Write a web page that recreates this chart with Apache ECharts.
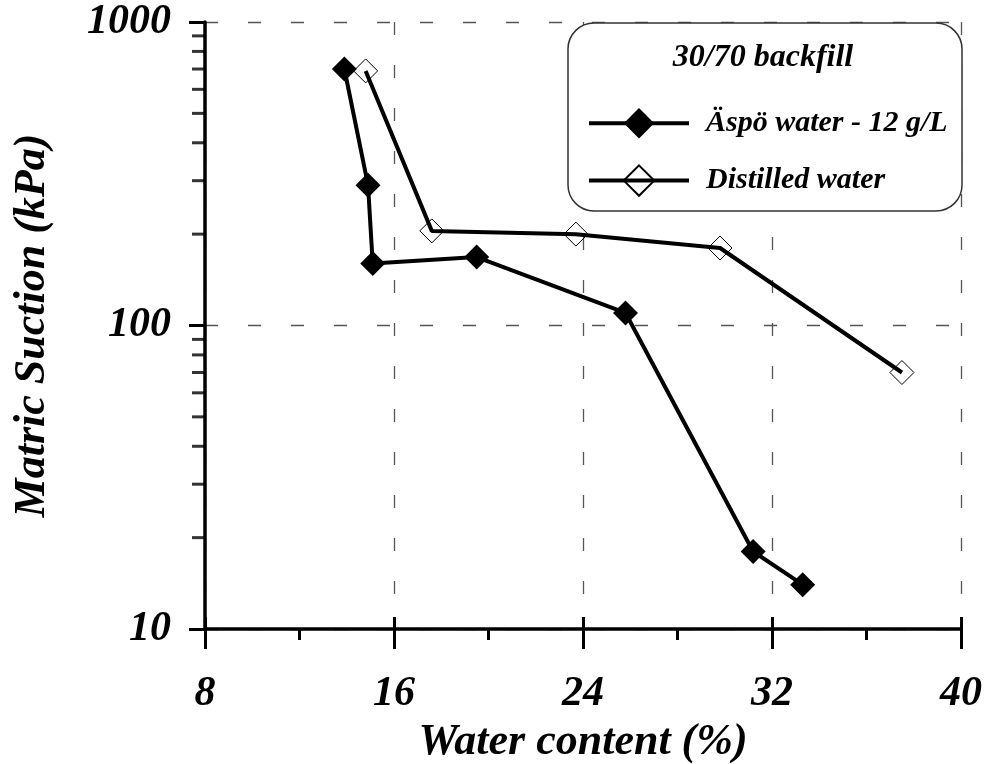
<!DOCTYPE html>
<html>
<head>
<meta charset="utf-8">
<script src="https://cdn.jsdelivr.net/npm/echarts@6/dist/echarts.min.js"></script>
<style>
html,body{margin:0;padding:0;background:#fff;overflow:hidden;}
#chart{width:987px;height:764px;}
</style>
</head>
<body>
<div id="chart"></div>
<script>
// Data
const aspoWaterContent = [13.9, 14.9, 15.1, 19.5, 25.8, 31.2, 33.3];
const aspoSuction      = [700, 290, 160, 168, 110, 18, 14];
const distWaterContent = [14.8, 17.6, 23.7, 29.8, 37.5];
const distSuction      = [690, 205, 200, 180, 70];
const seriesNames = ['Äspö water - 12 g/L', 'Distilled water'];
const legendTitle = '30/70 backfill';
const xTicks = [8, 16, 24, 32, 40];
const yTicks = [10, 100, 1000];
const yMinorTicks = [20, 30, 40, 50, 60, 70, 80, 90, 200, 300, 400, 500, 600, 700, 800, 900];

const FONT = '"Liberation Serif", "Times New Roman", serif';
const chart = echarts.init(document.getElementById('chart'), null, {renderer: 'canvas', width: 987, height: 764});

const zip = (xs, ys) => xs.map((x, i) => [x, ys[i]]);

const option = {
  animation: false,
  backgroundColor: '#fff',
  grid: {left: 205, right: 26, top: 22, bottom: 135, containLabel: false, outerBoundsMode: 'none'},
  xAxis: [{
    type: 'value',
    min: xTicks[0], max: xTicks[xTicks.length - 1], interval: 8,
    name: 'Water content (%)',
    nameLocation: 'middle',
    nameGap: 92,
    nameTextStyle: {fontFamily: FONT, fontSize: 44, fontWeight: 'bold', fontStyle: 'italic', color: '#000'},
    axisLine: {show: true, onZero: false, lineStyle: {color: '#000', width: 3.5}},
    axisTick: {show: true, inside: false, length: 20, lineStyle: {color: '#000', width: 3}},
    minorTick: {show: true, splitNumber: 2, length: 11, lineStyle: {color: '#000', width: 3}},
    axisLabel: {margin: 44, fontFamily: FONT, fontSize: 42, fontWeight: 'bold', fontStyle: 'italic', color: '#000'},
    splitLine: {show: true, lineStyle: {color: '#555', width: 1.3, type: [13, 30]}}
  }, {
    type: 'value',
    min: xTicks[0], max: xTicks[xTicks.length - 1], interval: 8,
    position: 'bottom',
    axisLine: {show: false},
    axisTick: {show: true, inside: true, length: 12, lineStyle: {color: '#000', width: 3}},
    axisLabel: {show: false},
    splitLine: {show: false}
  }],
  yAxis: [{
    type: 'log',
    logBase: 10,
    min: yTicks[0], max: yTicks[yTicks.length - 1],
    name: 'Matric Suction (kPa)',
    nameLocation: 'middle',
    nameGap: 150,
    nameRotate: 90,
    nameTextStyle: {fontFamily: FONT, fontSize: 44, fontWeight: 'bold', fontStyle: 'italic', color: '#000'},
    axisLine: {show: true, onZero: false, lineStyle: {color: '#000', width: 3.5}},
    axisTick: {show: true, inside: false, length: 16, lineStyle: {color: '#000', width: 3}},
    minorTick: {show: false},
    axisLabel: {margin: 34, fontFamily: FONT, fontSize: 42, fontWeight: 'bold', fontStyle: 'italic', color: '#000',
      formatter: v => String(Math.round(v))},
    splitLine: {show: true, lineStyle: {color: '#555', width: 1.3, type: [13, 30]}}
  }],
  legend: {
    show: true,
    data: seriesNames,
    orient: 'vertical',
    left: 582,
    top: 103,
    itemWidth: 100,
    itemHeight: 38,
    itemGap: 26,
    z: 10,
    lineStyle: {width: 4, color: '#000'},
    textStyle: {fontFamily: FONT, fontSize: 30, fontWeight: 'bold', fontStyle: 'italic', color: '#000', padding: [0, 0, 0, 12]},
    selectedMode: false
  },
  graphic: [{
    type: 'rect',
    z: 3,
    shape: {x: 568, y: 23, width: 394, height: 188, r: 26},
    style: {fill: '#fff', stroke: '#333', lineWidth: 1.5}
  }, {
    type: 'text',
    z: 11,
    x: 763, y: 58,
    style: {text: legendTitle, fontFamily: FONT, fontSize: 32, fontWeight: 'bold', fontStyle: 'italic', fill: '#000', align: 'center', verticalAlign: 'middle'}
  }],
  series: [{
    name: seriesNames[0],
    type: 'line',
    data: zip(aspoWaterContent, aspoSuction),
    symbol: 'diamond',
    symbolSize: 25,
    lineStyle: {color: '#000', width: 4},
    itemStyle: {color: '#000', borderColor: '#000', borderWidth: 0},
    z: 3
  }, {
    name: seriesNames[1],
    type: 'line',
    data: zip(distWaterContent, distSuction),
    symbol: 'diamond',
    symbolSize: 24,
    lineStyle: {color: '#000', width: 4},
    itemStyle: {color: 'rgba(255,255,255,0)', borderColor: '#000', borderWidth: 1},
    z: 3
  }, {
    name: 'yMinorTicks',
    type: 'scatter',
    data: yMinorTicks.map(v => [xTicks[0], v]),
    symbol: 'rect',
    symbolSize: [12, 3],
    symbolOffset: [-7, 0],
    itemStyle: {color: '#000'},
    clip: false,
    silent: true,
    z: 4
  }]
};
chart.setOption(option);
</script>
</body>
</html>
